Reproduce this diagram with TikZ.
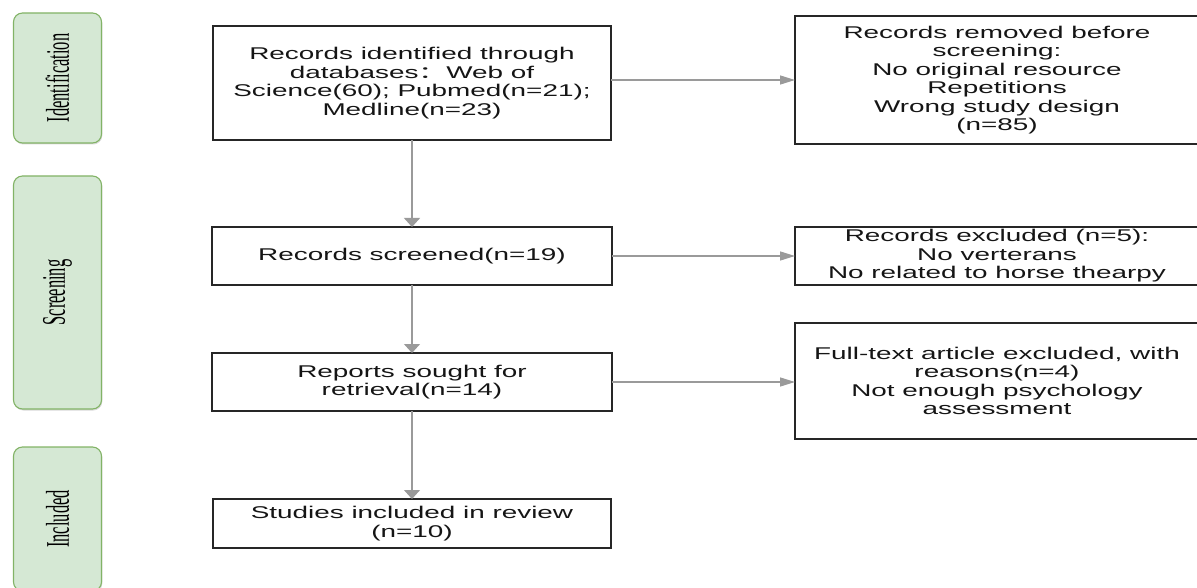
\documentclass[tikz,border=0pt]{standalone}
\usepackage{fontspec}
\setmainfont{Liberation Sans}[FakeStretch=1.64]
\newfontfamily\tabfont{Liberation Serif}[FakeStretch=0.5]
\newfontfamily\cjk{Noto Sans CJK SC}[FakeStretch=1.64]
\usetikzlibrary{arrows.meta,shadows}

\definecolor{stagefill}{HTML}{D5E8D4}
\definecolor{stageline}{HTML}{82B366}
\definecolor{boxline}{HTML}{262626}
\definecolor{arrowcol}{HTML}{9A9A9A}
\definecolor{textcol}{HTML}{151515}

\begin{document}
\begin{tikzpicture}[x=1pt,y=-1pt,
  every node/.style={inner sep=0pt, outer sep=0pt},
  stage/.style={draw=stageline, fill=stagefill, rounded corners=9pt,
    line width=1.1pt, rotate=90, minimum height=88pt,
    drop shadow={shadow xshift=0.8pt, shadow yshift=-1.5pt, opacity=0.3},
    font=\tabfont\fontsize{33}{33}\selectfont, text=black},
  box/.style={draw=boxline, line width=1.3pt, align=center, text=textcol,
    font=\fontsize{17}{18.5}\selectfont},
  flowv/.style={draw=arrowcol, line width=1.4pt, -{Triangle[length=9pt,width=16pt]}},
  flowh/.style={draw=arrowcol, line width=1.4pt, -{Triangle[length=15pt,width=9pt]}},
]
\useasboundingbox (0,0) rectangle (1197,588);
\clip (0,0) rectangle (1197,588);

% stage tabs on the left
\node[stage, minimum width=130pt] (tabid) at (57.5,78) {Identification};
\node[stage, minimum width=233pt] (tabsc) at (57.5,292.5) {Screening};
\node[stage, minimum width=144pt] (tabin) at (57.5,519) {Included};

% main column
\node[box, minimum width=398pt, minimum height=114pt] (b1) at (412,83)
  {Records identified through\\databases{\cjk ：}Web of\\Science(60); Pubmed(n=21);\\Medline(n=23)};
\node[box, minimum width=400pt, minimum height=58pt] (b3) at (412,256)
  {Records screened(n=19)};
\node[box, minimum width=400pt, minimum height=58pt] (b5) at (412,382)
  {Reports sought for\\retrieval(n=14)};
\node[box, minimum width=398pt, minimum height=49pt] (b7) at (412,523.5)
  {Studies included in review\\(n=10)};

% exclusion column
\node[box, minimum width=404pt, minimum height=128pt] (b2) at (997,80)
  {Records removed before\\screening:\\No original resource\\Repetitions\\Wrong study design\\(n=85)};
\node[box, minimum width=404pt, minimum height=58pt] (b4) at (997,256)
  {Records excluded (n=5):\\No verterans\\No related to horse thearpy};
\node[box, minimum width=404pt, minimum height=116pt] (b6) at (997,381)
  {Full-text article excluded, with\\reasons(n=4)\\Not enough psychology\\assessment};

% connectors
\draw[flowv] (b1.south) -- (b3.north);
\draw[flowv] (b3.south) -- (b5.north);
\draw[flowv] (b5.south) -- (b7.north);
\draw[flowh] (b1.east |- b2.west) -- (b2.west);
\draw[flowh] (b3.east) -- (b4.west);
\draw[flowh] (b5.east) -- (b5.east -| b6.west);
\end{tikzpicture}
\end{document}
